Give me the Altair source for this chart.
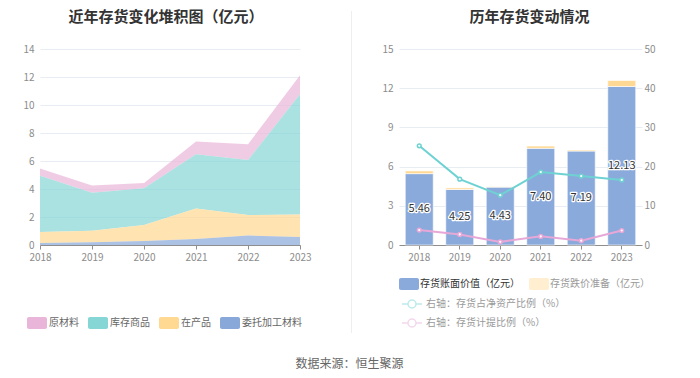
import altair as alt
import pandas as pd

FONT = "Noto Sans CJK SC"

years = ["2018", "2019", "2020", "2021", "2022", "2023"]

# left chart: stacked inventory composition (亿元)
raw_material = [0.51, 0.51, 0.38, 0.92, 1.12, 1.37]      # 原材料
goods_stock = [4.02, 2.72, 2.62, 3.88, 3.93, 8.59]        # 库存商品
wip = [0.79, 0.83, 1.14, 2.17, 1.47, 1.60]                # 在产品
consigned = [0.14, 0.19, 0.29, 0.43, 0.67, 0.57]          # 委托加工材料

left_names = ["原材料", "库存商品", "在产品", "委托加工材料"]
left_colors = ["#E9B6D9", "#86D6D6", "#FFD892", "#88A8DA"]

# right chart
book_value = [5.46, 4.25, 4.43, 7.40, 7.19, 12.13]         # 存货账面价值
impairment = [0.21, 0.12, 0.03, 0.17, 0.08, 0.46]          # 存货跌价准备
ratio_net_assets = [25.3, 16.8, 12.7, 18.6, 17.6, 16.6]    # 存货占净资产比例
ratio_provision = [3.8, 2.7, 0.8, 2.2, 1.1, 3.7]           # 存货计提比例

bar_names = ["存货账面价值（亿元）", "存货跌价准备（亿元）"]
bar_colors = ["#8AAADB", "#FFD994"]
line_names = ["右轴：存货占净资产比例（%）", "右轴：存货计提比例（%）"]
line_colors = ["#6FD2D2", "#E7A8D8"]

LABEL = "#8C8C8C"
GRID = "#E8ECF3"
AXIS = "#8E8E8E"

rect_path = ("M-1.337,-1H1.337A0.33,0.33,0,0,1,1.667,-0.67V0.67A0.33,0.33,0,0,1,1.337,1"
             "H-1.337A0.33,0.33,0,0,1,-1.667,0.67V-0.67A0.33,0.33,0,0,1,-1.337,-1Z")
line_sym = "M-1.25,0H-0.5M0.5,0H1.25M-0.5,0A0.5,0.5,0,1,0,0.5,0A0.5,0.5,0,1,0,-0.5,0"

TITLE_OFFSET = 19

# ---------- left ----------
rows = []
series = [raw_material, goods_stock, wip, consigned]
for k, (name, vals) in enumerate(zip(left_names, series)):
    for y, v in zip(years, vals):
        rows.append({"year": y, "type": name, "value": v, "ord": 3 - k})
df_left = pd.DataFrame(rows)

left = alt.Chart(df_left).mark_area(opacity=0.7).encode(
    x=alt.X("year:O", title=None, scale=alt.Scale(type="point", padding=0),
            axis=alt.Axis(labelAngle=0, labelColor=LABEL, labelFontSize=10, labelFont=FONT,
                          domainColor=AXIS, tickColor=AXIS, tickSize=4, labelPadding=3,
                          grid=False)),
    y=alt.Y("value:Q", stack="zero", title=None,
            scale=alt.Scale(domain=[0, 14], nice=False),
            axis=alt.Axis(values=[0, 2, 4, 6, 8, 10, 12, 14], labelColor=LABEL, labelFontSize=10,
                          labelFont=FONT, domain=False, ticks=False, labelPadding=6,
                          gridColor=GRID, minExtent=32)),
    color=alt.Color("type:N", scale=alt.Scale(domain=left_names, range=left_colors),
                    legend=alt.Legend(orient="none", legendX=-10, legendY=267, direction="horizontal",
                                      title=None, symbolType=rect_path, symbolSize=144,
                                      symbolOpacity=1, labelFontSize=10, labelFont=FONT,
                                      labelColor="#666666", labelOffset=5, columnPadding=8,
                                      padding=0)),
    order=alt.Order("ord:Q"),
).properties(width=260, height=196,
             title=alt.TitleParams("近年存货变化堆积图（亿元）", fontSize=15, font=FONT,
                                   fontWeight="bold", color="#333333", offset=TITLE_OFFSET, dx=-4))

# ---------- divider ----------
divider = alt.Chart(pd.DataFrame({"a": [0]})).mark_rule(color="#EEEEEE", strokeWidth=1).encode(
    x=alt.value(0.5), y=alt.value(-38), y2=alt.value(284)).properties(width=1, height=196)

# ---------- right ----------
brows = []
for k, (name, vals) in enumerate(zip(bar_names, [book_value, impairment])):
    for y, v in zip(years, vals):
        brows.append({"year": y, "series": name, "value": v, "ord": k})
df_bars = pd.DataFrame(brows)
df_lab = pd.DataFrame({"year": years, "value": book_value})
lrows = []
for name, vals in zip(line_names, [ratio_net_assets, ratio_provision]):
    for y, v in zip(years, vals):
        lrows.append({"year": y, "series": name, "value": v})
df_lines = pd.DataFrame(lrows)

xaxis_r = alt.Axis(labelAngle=0, labelColor=LABEL, labelFontSize=10, labelFont=FONT,
                   domainColor=AXIS, tickColor=AXIS, tickSize=4, labelPadding=3, grid=False)
xenc = alt.X("year:N", title=None, sort=years,
             scale=alt.Scale(paddingInner=0.31, paddingOuter=0.155), axis=xaxis_r)
left_axis = alt.Axis(values=[0, 3, 6, 9, 12, 15], labelColor=LABEL, labelFontSize=10,
                     labelFont=FONT, domain=False, ticks=False, labelPadding=6,
                     gridColor=GRID, minExtent=38, orient="left")

bars = alt.Chart(df_bars).mark_bar(stroke="white", strokeWidth=0.6).encode(
    x=xenc,
    y=alt.Y("value:Q", stack="zero", title=None, scale=alt.Scale(domain=[0, 15], nice=False),
            axis=left_axis),
    fill=alt.Fill("series:N", scale=alt.Scale(domain=bar_names, range=bar_colors),
                  legend=alt.Legend(orient="none", legendX=4, legendY=229, direction="horizontal",
                                    title=None, symbolType=rect_path, symbolSize=144,
                                    symbolOpacity=alt.ExprRef("datum.value === '存货跌价准备（亿元）' ? 0.45 : 1"),
                                    labelFontSize=10, labelFont=FONT,
                                    labelColor=alt.ExprRef("datum.label === '存货账面价值（亿元）' ? '#333333' : '#9A9A9A'"),
                                    labelOffset=5, columnPadding=8, padding=0,
                                    symbolStrokeWidth=0)),
    order=alt.Order("ord:Q"),
)

lab_base = alt.Chart(df_lab).transform_calculate(mid="datum.value / 2").encode(
    x=alt.X("year:N", sort=years, title=None, axis=xaxis_r),
    y=alt.Y("mid:Q", title=None, axis=left_axis),
    text=alt.Text("value:Q", format=".2f"),
)
halo = lab_base.mark_text(font=FONT, fontSize=11, stroke="white", strokeWidth=2.5,
                          strokeJoin="round", fill="white")
labels = lab_base.mark_text(font=FONT, fontSize=11, fill="#333333")

bar_group = alt.layer(bars, halo, labels)

lenc_y = alt.Y("value:Q", title=None, scale=alt.Scale(domain=[0, 50], nice=False),
               axis=alt.Axis(values=[0, 10, 20, 30, 40, 50], labelColor=LABEL, labelFontSize=10,
                             labelFont=FONT, domain=False, ticks=False, labelPadding=2,
                             grid=False, orient="right"))
stroke_enc = alt.Stroke("series:N", scale=alt.Scale(domain=line_names, range=line_colors),
                        legend=alt.Legend(orient="none", legendX=4, legendY=246, direction="vertical",
                                          title=None, symbolType=line_sym, symbolSize=256,
                                          symbolStrokeWidth=1.5, symbolFillColor="white",
                                          symbolOpacity=0.45, labelFontSize=10, labelFont=FONT,
                                          labelColor="#9A9A9A", labelOffset=5, rowPadding=3,
                                          padding=0))
lines = alt.Chart(df_lines).mark_line(strokeWidth=2).encode(
    x=alt.X("year:N", sort=years), y=lenc_y, stroke=stroke_enc)
points = alt.Chart(df_lines).mark_point(shape="circle", filled=True, fill="white", size=14,
                                        strokeWidth=1.5, opacity=1).encode(
    x=alt.X("year:N", sort=years), y=lenc_y, stroke=stroke_enc)
line_group = alt.layer(lines, points)

right = alt.layer(bar_group, line_group).resolve_scale(y="independent").properties(
    width=243, height=196,
    title=alt.TitleParams("历年存货变动情况", fontSize=15, font=FONT, fontWeight="bold",
                          color="#333333", offset=TITLE_OFFSET, dx=9))

inner = alt.hconcat(left, divider, spacing=39).resolve_scale(
    color="independent").resolve_legend(color="independent")

chart = alt.hconcat(inner, right, spacing=9).resolve_scale(
    color="independent", fill="independent", stroke="independent"
).resolve_legend(
    color="independent", fill="independent", stroke="independent"
).properties(
    padding={"left": 0, "top": 2, "right": 0, "bottom": 0},
    title=alt.TitleParams("数据来源：恒生聚源", orient="bottom", anchor="middle", fontSize=12,
                          font=FONT, fontWeight="normal", color="#666666", offset=25, dx=18),
).configure(font=FONT, view=alt.ViewConfig(stroke=None))

chart.save("out.html", embed_options={"renderer": "svg", "actions": False})
